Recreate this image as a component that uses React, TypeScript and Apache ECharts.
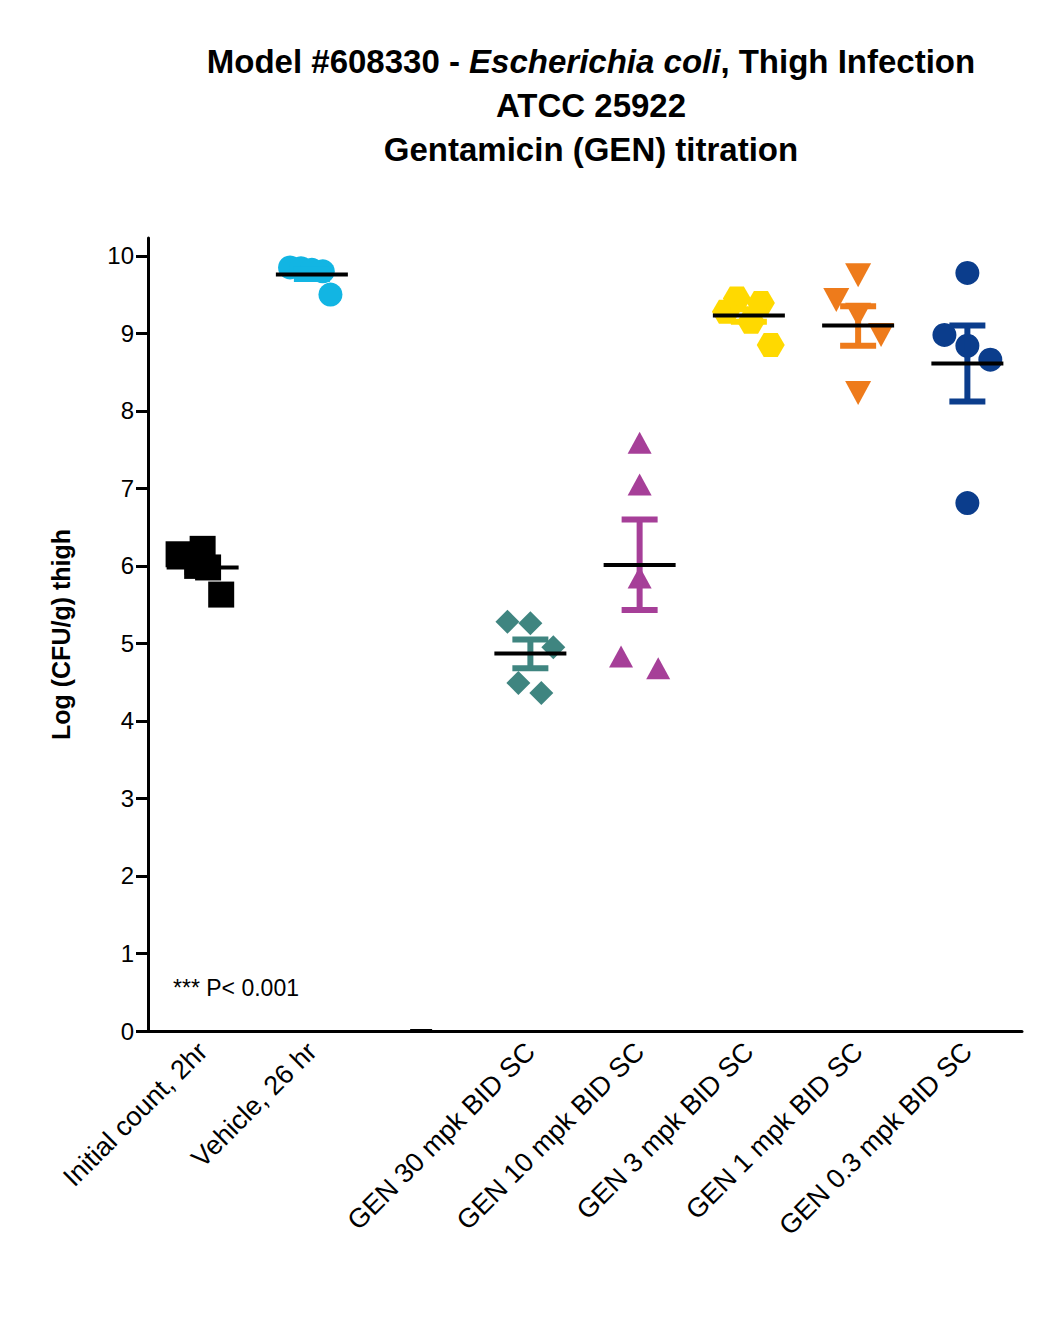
import React, { useEffect, useRef } from "react";
import * as echarts from "echarts";

const categories = ["Initial count, 2hr", "Vehicle, 26 hr", "", "GEN 30 mpk BID SC", "GEN 10 mpk BID SC", "GEN 3 mpk BID SC", "GEN 1 mpk BID SC", "GEN 0.3 mpk BID SC"];
const colors = ["#000000", "#12b5e3", "#000000", "#3f8580", "#a63f98", "#ffd900", "#ee7b1b", "#0b3d8c"];
const symbols = ["rect", "circle", "none", "diamond", "triangle", "path://M-1,0L-0.5,-0.87L0.5,-0.87L1,0L0.5,0.87L-0.5,0.87Z", "path://M-1,-0.9L1,-0.9L0,0.9Z", "circle"];
// [x offset, value]
const g0 = [[-0.22, 6.15], [0.0, 6.22], [-0.05, 6.0], [0.05, 5.98], [0.17, 5.63]];
const g1 = [[-0.2, 9.85], [-0.1, 9.84], [0.0, 9.82], [0.1, 9.8], [0.17, 9.5]];
const g2: number[][] = [];
const g3 = [[-0.21, 5.28], [0.0, 5.26], [0.21, 4.95], [-0.11, 4.49], [0.1, 4.36]];
const g4 = [[0.0, 7.59], [0.0, 7.05], [0.0, 5.85], [-0.17, 4.83], [0.17, 4.68]];
const g5 = [[-0.11, 9.45], [0.11, 9.39], [-0.21, 9.28], [0.02, 9.15], [0.2, 8.85]];
const g6 = [[0.0, 9.75], [-0.2, 9.43], [0.0, 9.24], [0.21, 8.98], [0.0, 8.23]];
const g7 = [[0.0, 9.78], [-0.21, 8.98], [0.0, 8.84], [0.21, 8.66], [0.0, 6.81]];
const groups = [g0, g1, g2, g3, g4, g5, g6, g7];
const means = [5.98, 9.76, 0, 4.87, 6.01, 9.23, 9.1, 8.61];
const semLow = [5.92, 9.7, 0, 4.68, 5.43, 9.15, 8.84, 8.12];
const semHigh = [6.05, 9.82, 0, 5.05, 6.6, 9.31, 9.35, 9.1];
const stars = [null, null, null, 6.05, 8.3, null, null, null];

export default function App() {
  const ref = useRef<HTMLDivElement>(null);
  useEffect(() => {
    const chart = echarts.init(ref.current!, null, { renderer: "svg" });
    const font = "Liberation Sans, Arial, sans-serif";
    const scatterSeries = groups.map((g, i) => ({
      type: "scatter",
      xAxisIndex: 1,
      data: g.map(([dx, v]) => [i + dx, v]),
      symbol: symbols[i],
      symbolSize: i === 0 ? 26 : i === 6 ? [26, 24] : i === 5 ? [28, 24] : i === 4 ? [24, 22] : 24,
      itemStyle: { color: colors[i], opacity: 1 },
      z: 2,
    }));
    const statData = means.map((m, i) => [i, m, semLow[i], semHigh[i]]);
    chart.setOption({
      animation: false,
      title: {
        left: 578,
        top: 26,
        textAlign: "center",
        text: "Model #608330 - {i|Escherichia coli}, Thigh Infection\nATCC 25922\nGentamicin (GEN) titration",
        textStyle: {
          fontFamily: font, fontSize: 33, fontWeight: "bold", color: "#000", lineHeight: 44,
          rich: { i: { fontFamily: font, fontSize: 33, fontWeight: "bold", fontStyle: "italic", color: "#000" } },
        },
      },
      grid: { left: 140, right: 20, top: 230, bottom: 284 },
      xAxis: [
        {
          type: "category", data: categories, boundaryGap: true,
          axisLine: { lineStyle: { color: "#000", width: 3 } },
          axisTick: { alignWithLabel: true, length: 12, lineStyle: { color: "#000", width: 3 } },
          axisLabel: { rotate: 45, fontFamily: font, fontSize: 27, color: "#000", margin: 16, interval: 0 },
        },
        { type: "value", min: -0.5, max: 7.5, show: false },
      ],
      yAxis: {
        type: "value", min: 0, max: 10.23, interval: 1,
        name: "Log (CFU/g) thigh", nameLocation: "middle", nameGap: 75,
        nameTextStyle: { fontFamily: font, fontSize: 25, fontWeight: "bold", color: "#000" },
        axisLine: { show: true, onZero: false, lineStyle: { color: "#000", width: 3 } },
        axisTick: { show: true, length: 12, lineStyle: { color: "#000", width: 3 } },
        axisLabel: { fontFamily: font, fontSize: 24, color: "#000", margin: 14, showMaxLabel: false },
        splitLine: { show: false },
      },
      series: [
        ...scatterSeries,
        {
          type: "custom", xAxisIndex: 1, data: statData, z: 5,
          renderItem: (params: any, api: any) => {
            const i = api.value(0);
            const c = api.coord([i, api.value(1)]);
            const lo = api.coord([i, api.value(2)]);
            const hi = api.coord([i, api.value(3)]);
            const half = i === 2 ? 11 : 36;
            const col = colors[i];
            const children: any[] = [];
            if (i !== 2) {
              children.push(
                { type: "line", shape: { x1: c[0], y1: hi[1], x2: c[0], y2: lo[1] }, style: { stroke: col, lineWidth: 6 } },
                { type: "line", shape: { x1: c[0] - 18, y1: hi[1], x2: c[0] + 18, y2: hi[1] }, style: { stroke: col, lineWidth: 6 } },
                { type: "line", shape: { x1: c[0] - 18, y1: lo[1], x2: c[0] + 18, y2: lo[1] }, style: { stroke: col, lineWidth: 6 } }
              );
            }
            children.push({ type: "line", shape: { x1: c[0] - half, y1: c[1], x2: c[0] + half, y2: c[1] }, style: { stroke: "#000", lineWidth: 4 } });
            return { type: "group", children };
          },
        },
        {
          type: "scatter", xAxisIndex: 1, symbolSize: 1, z: 6,
          itemStyle: { opacity: 0 },
          data: stars.map((s, i) => (s == null ? null : [i, s])).filter((d) => d),
          label: { show: true, formatter: "***", position: "inside", fontFamily: font, fontSize: 46, fontWeight: "bold", color: "#000" },
        },
      ],
      graphic: [
        { type: "text", left: 165, top: 968, style: { text: "*** P< 0.001", font: `23px ${font}`, fill: "#000" } },
      ],
    });
    return () => chart.dispose();
  }, []);
  return <div ref={ref} style={{ width: 1034, height: 1307 }} />;
}
